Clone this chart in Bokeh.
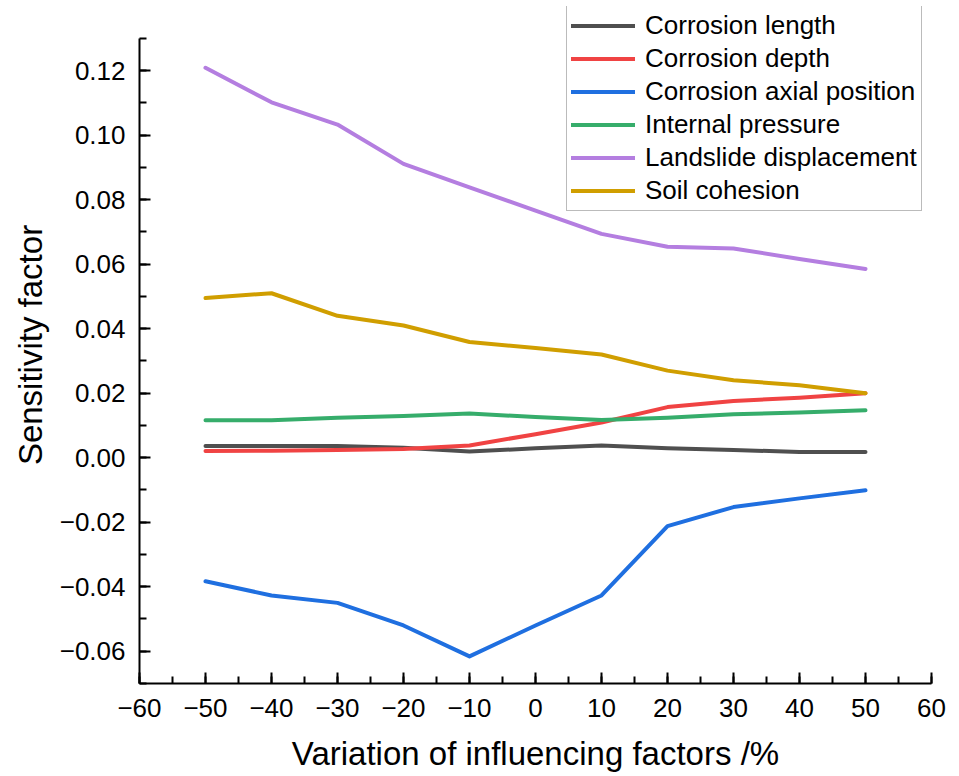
from bokeh.plotting import figure
from bokeh.embed import file_html
from bokeh.resources import INLINE
from bokeh.models import Range1d, SingleIntervalTicker, CustomJSTickFormatter, Legend, LegendItem

x_vals = [-50, -40, -30, -20, -10, 0, 10, 20, 30, 40, 50]

corrosion_length = [0.0036, 0.0036, 0.0036, 0.0031, 0.0019, 0.0029, 0.0038, 0.0029, 0.0024, 0.0018, 0.0018]
corrosion_depth = [0.0021, 0.0022, 0.0024, 0.0027, 0.0038, 0.0073, 0.0109, 0.0157, 0.0176, 0.0186, 0.0200]
corrosion_axial = [-0.0383, -0.0427, -0.0450, -0.0520, -0.0616, -0.0520, -0.0427, -0.0212, -0.0153, -0.0126, -0.0101]
internal_pressure = [0.0116, 0.0116, 0.0124, 0.0129, 0.0137, 0.0126, 0.0117, 0.0124, 0.0135, 0.0140, 0.0147]
landslide_disp = [0.1209, 0.1102, 0.1033, 0.0911, 0.0838, 0.0766, 0.0694, 0.0654, 0.0649, 0.0616, 0.0585]
soil_cohesion = [0.0495, 0.0510, 0.0440, 0.0410, 0.0359, 0.0340, 0.0320, 0.0270, 0.0240, 0.0225, 0.0200]

series_names = ["Corrosion length", "Corrosion depth", "Corrosion axial position",
                "Internal pressure", "Landslide displacement", "Soil cohesion"]
series_values = [corrosion_length, corrosion_depth, corrosion_axial,
                 internal_pressure, landslide_disp, soil_cohesion]
series_colors = ["#4f4f4f", "#f04343", "#1f6fe0", "#36ad6b", "#b47ee0", "#d09e00"]

FONT = "Liberation Sans"

p = figure(width=959, height=776, output_backend="svg", toolbar_location=None,
           x_range=Range1d(-60, 60), y_range=Range1d(-0.07, 0.1399),
           min_border_left=139, min_border_right=28, min_border_top=6, min_border_bottom=93)
p.outline_line_color = None
p.xgrid.visible = False
p.ygrid.visible = False
p.background_fill_color = "white"
p.border_fill_color = "white"

p.xaxis.ticker = SingleIntervalTicker(interval=10, num_minor_ticks=2)
p.yaxis.ticker = SingleIntervalTicker(interval=0.02, num_minor_ticks=2)
p.yaxis.bounds = (-0.07, 0.13)
p.xaxis.formatter = CustomJSTickFormatter(code="""
    var s = Math.round(tick).toString();
    return s.replace('-', '\\u2212');
""")
p.yaxis.formatter = CustomJSTickFormatter(code="""
    var v = Math.abs(tick) < 1e-9 ? 0 : tick;
    var s = v.toFixed(2);
    return s.replace('-', '\\u2212');
""")

for ax in (p.xaxis[0], p.yaxis[0]):
    ax.axis_line_width = 2
    ax.axis_line_color = "black"
    ax.major_tick_in = 11
    ax.major_tick_out = 0
    ax.minor_tick_in = 7
    ax.minor_tick_out = 0
    ax.major_tick_line_width = 2
    ax.minor_tick_line_width = 2
    ax.major_tick_line_color = "black"
    ax.minor_tick_line_color = "black"
    ax.major_label_text_font = FONT
    ax.major_label_text_font_size = "26px"
    ax.major_label_text_color = "black"
    ax.axis_label_text_font = FONT
    ax.axis_label_text_font_size = "33px"
    ax.axis_label_text_font_style = "normal"
    ax.axis_label_text_color = "black"

p.xaxis.axis_label = "Variation of influencing factors /%"
p.yaxis.axis_label = "Sensitivity factor"
p.xaxis.major_label_standoff = 15
p.xaxis.axis_label_standoff = 15
p.yaxis.major_label_standoff = 14
p.yaxis.axis_label_standoff = 8

items = []
for name, vals, col in zip(series_names, series_values, series_colors):
    r = p.line(x_vals, vals, line_color=col, line_width=4, line_join="round", line_cap="round")
    items.append(LegendItem(label=name, renderers=[r]))

legend = Legend(items=items, location=(427, 472))
legend.label_text_font = FONT
legend.label_text_font_size = "26px"
legend.label_text_color = "black"
legend.glyph_width = 64
legend.glyph_height = 31
legend.label_height = 31
legend.spacing = 2
legend.padding = 4
legend.margin = 0
legend.label_standoff = 10
legend.border_line_color = "#777777"
legend.border_line_width = 1.5
legend.background_fill_color = "white"
legend.background_fill_alpha = 1.0
p.add_layout(legend, "center")

open("out.html", "w").write(file_html(p, INLINE))
